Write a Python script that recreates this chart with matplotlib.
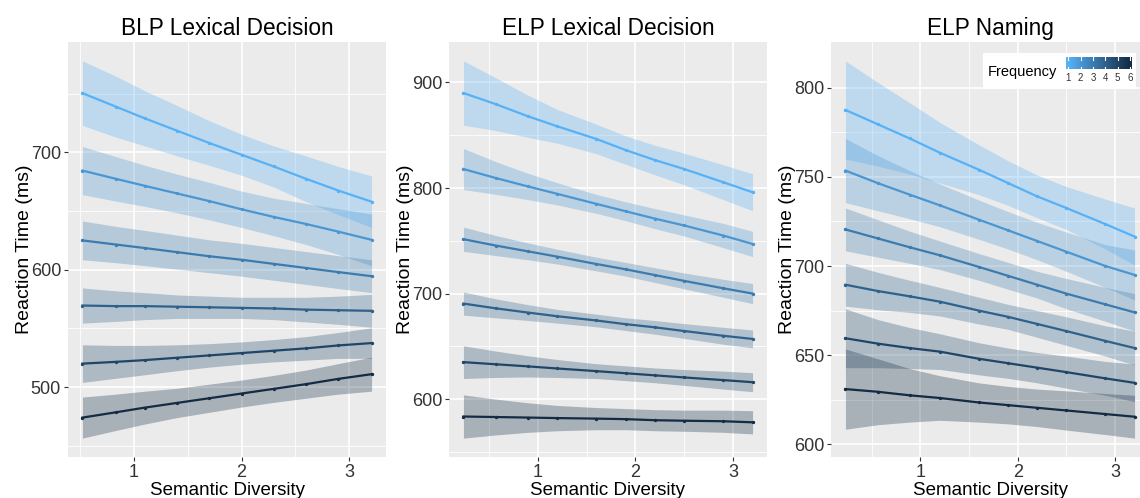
import matplotlib
matplotlib.use("Agg")
import matplotlib.pyplot as plt
import numpy as np
from matplotlib.colors import LinearSegmentedColormap, Normalize
from matplotlib.patches import Rectangle

plt.rcParams['font.family'] = ['Liberation Sans', 'DejaVu Sans']

# semantic diversity values where the model predictions are evaluated
x_blp = [0.52, 0.83, 1.1, 1.4, 1.7, 2.0, 2.3, 2.6, 2.9, 3.21]
x_elp_ld = [0.24, 0.57, 0.9, 1.2, 1.6, 1.9, 2.2, 2.5, 2.9, 3.2]
x_elp_nm = [0.23, 0.56, 0.89, 1.2, 1.6, 1.9, 2.2, 2.5, 2.9, 3.2]

frequency = [1, 2, 3, 4, 5, 6]

# predicted RT (ms), one row per frequency level
fit_blp = [
    [750.5, 739, 729, 718.5, 708, 698, 688, 677.5, 667.5, 658],
    [684.5, 677.5, 671.5, 665, 658.5, 651.5, 645, 639, 632.5, 625.5],
    [625, 621.5, 618.5, 615, 611.5, 608.5, 605, 601.5, 598, 594.5],
    [569.5, 569, 569, 568.5, 568, 567.5, 567, 566, 565.5, 565],
    [520, 521.5, 523, 525, 527, 529, 531, 533, 535.5, 537.5],
    [474, 478.5, 482.5, 486.5, 490.5, 494.5, 498.5, 502.5, 507, 511],
]
ci_blp = [
    [27.5, 26, 23.5, 21.5, 19, 17.5, 17.5, 19.5, 20.5, 22],
    [20.5, 19, 17.5, 16.5, 16, 15.5, 16, 17.5, 19.5, 22],
    [16.5, 15.5, 15, 14.5, 14, 14, 14, 14, 14, 14],
    [15, 13, 11.5, 10, 9.5, 9, 9.5, 10.5, 12, 14],
    [16, 14, 12.5, 11, 10, 9.5, 9.5, 10, 11, 13],
    [17.5, 15.5, 14, 12.5, 12, 11.5, 11.5, 12, 13, 14.5],
]

fit_elp_ld = [
    [890, 879.5, 868, 858.5, 846.5, 836, 826.5, 818, 805.5, 796],
    [818, 809.5, 801.5, 794.5, 785, 778, 771, 764.5, 755, 747],
    [751.5, 745.5, 740, 735, 728, 723, 717.5, 712, 705, 700],
    [690.5, 686, 682, 678.5, 674.5, 671, 668, 664.5, 660, 657],
    [635, 633, 631, 629, 626.5, 624.5, 622.5, 620.5, 618, 616],
    [583.5, 583, 582.5, 582, 581.5, 581, 580, 579.5, 579, 578],
]
ci_elp_ld = [
    [30.5, 25, 20, 16, 14, 13.5, 14, 15, 16.5, 17.5],
    [19.5, 15.5, 12.5, 10.5, 9, 9, 9.5, 10, 11.5, 12],
    [11.5, 9.5, 8, 7, 6.5, 6.5, 7, 7.5, 8.5, 9.5],
    [11, 9, 7.5, 6.5, 6, 6, 6.5, 7, 8, 8.5],
    [15.5, 12.5, 10, 8.5, 7, 7, 7, 7.5, 8.5, 9],
    [20.5, 17, 14, 12, 10.5, 10, 10, 10, 10.5, 11],
]

fit_elp_nm = [
    [787.5, 779.5, 771.5, 763.5, 754, 746.5, 739, 732.5, 723.5, 716.5],
    [753.5, 746.5, 740, 734, 726, 720, 714, 708, 700, 695],
    [720.5, 715.5, 710.5, 706, 699.5, 694.5, 689.5, 684.5, 678.5, 674],
    [689.5, 686, 683, 680, 675, 671.5, 667.5, 663.5, 658, 654],
    [659.5, 656.5, 654, 652, 648, 645.5, 643, 640.5, 637, 634.5],
    [631, 629.5, 627.5, 626, 623.5, 622, 620.5, 619, 617, 615.5],
]
ci_elp_nm = [
    [27.5, 23.5, 20, 17, 14, 12.5, 12, 12, 14, 16],
    [18, 15.5, 13.5, 12, 11, 10.5, 10.5, 11, 12, 14],
    [12, 10.5, 9, 8, 7.5, 7.5, 7.5, 8.5, 9.5, 10.5],
    [12, 10.5, 9, 8, 7.5, 7, 7.5, 8, 8.5, 9.5],
    [16.5, 13.5, 11.5, 10, 9, 8.5, 8.5, 9, 9.5, 10.5],
    [22.5, 18.5, 15, 12.5, 11, 10.5, 10.5, 11, 11.5, 12],
]

titles = ["BLP Lexical Decision", "ELP Lexical Decision", "ELP Naming"]
xs = [x_blp, x_elp_ld, x_elp_nm]
fits = [fit_blp, fit_elp_ld, fit_elp_nm]
cis = [ci_blp, ci_elp_ld, ci_elp_nm]
major_y = [[500, 600, 700], [600, 700, 800, 900], [600, 650, 700, 750, 800]]
minor_y = [[450, 550, 650, 750], [550, 650, 750, 850], [625, 675, 725, 775]]

cmap = LinearSegmentedColormap.from_list("freq", ["#56B1F7", "#132B43"])
norm = Normalize(1, 6)

fig = plt.figure(figsize=(11.4, 4.98), dpi=100)
lefts = [68, 449, 831]
W, H = 1140, 498

for i in range(3):
    ax = fig.add_axes([lefts[i] / W, 41 / H, 318 / W, 415 / H])
    ax.set_facecolor("#EBEBEB")
    x = np.array(xs[i])
    # confidence ribbons first, then the fitted lines on top
    for k, f in enumerate(frequency):
        fit = np.array(fits[i][k])
        ci = np.array(cis[i][k])
        ax.fill_between(x, fit - ci, fit + ci, color=cmap(norm(f)), alpha=0.3, lw=0)
    for k, f in enumerate(frequency):
        ax.plot(x, fits[i][k], color=cmap(norm(f)), lw=1.6, marker='o', ms=1.4)
    ax.margins(x=0.05, y=0.05)
    ax.set_yticks(major_y[i])
    ax.set_yticks(minor_y[i], minor=True)
    ax.set_xticks([1, 2, 3])
    ax.set_xticks([0.5, 1.5, 2.5], minor=True)
    ax.grid(which='major', color='white', lw=1.2)
    ax.grid(which='minor', color='white', lw=0.6)
    ax.set_axisbelow(True)
    for s in ax.spines.values():
        s.set_visible(False)
    ax.tick_params(which='major', length=3, width=0.8, color='#333333',
                   labelsize=13, labelcolor='#333333', pad=2)
    ax.tick_params(which='minor', length=0)
    ax.set_title(titles[i], fontsize=16.3, pad=5)
    ax.set_xlabel("Semantic Diversity", fontsize=13.5, labelpad=1)
    ax.set_ylabel("Reaction Time (ms)", fontsize=14, labelpad=-1.5)

# colour legend inside the naming panel
fig.add_artist(Rectangle((982.7 / W, (H - 89.3) / H), 153.3 / W, 36 / H,
                         transform=fig.transFigure, facecolor='white',
                         edgecolor='none', zorder=1))
fig.text(988 / W, (H - 71.7) / H, "Frequency", fontsize=10.5, va='center',
         ha='left', zorder=3)
cax = fig.add_axes([1066 / W, (H - 69.3) / H, 65.7 / W, 12 / H])
cax.set_zorder(2)
grad = np.linspace(0.8, 6.15, 256)[None, :]
cax.imshow(grad, extent=(0.8, 6.15, 0, 1), aspect='auto', cmap=cmap, norm=norm)
for f in frequency:
    cax.plot([f, f], [0, 0.2], color='white', lw=0.8)
    cax.plot([f, f], [0.8, 1], color='white', lw=0.8)
cax.set_xlim(0.8, 6.15)
cax.set_ylim(0, 1)
cax.set_xticks(frequency)
cax.set_yticks([])
cax.tick_params(length=0, labelsize=7, pad=3, labelcolor='#333333')
for s in cax.spines.values():
    s.set_visible(False)

fig.savefig("out.png", dpi=100)
